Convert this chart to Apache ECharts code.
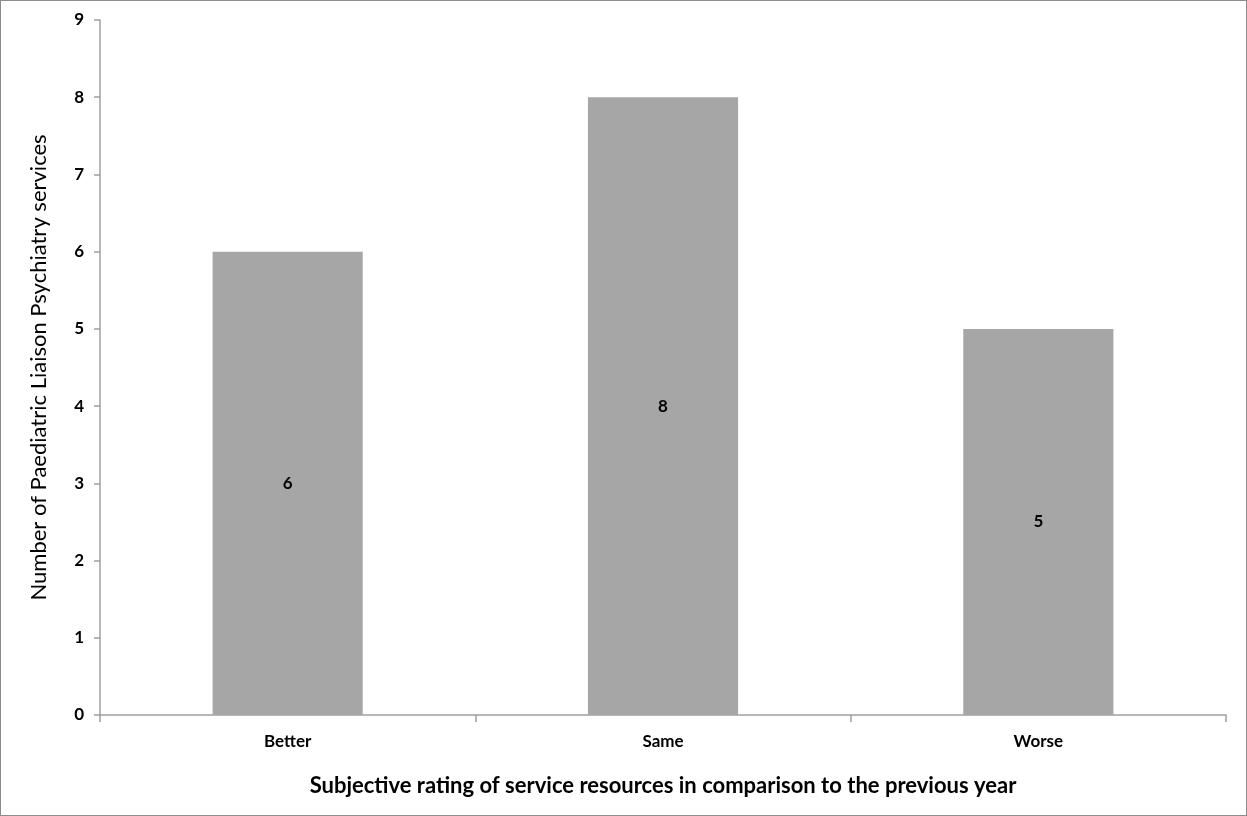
<!DOCTYPE html>
<html><head><meta charset="utf-8">
<script src="https://cdn.jsdelivr.net/npm/echarts@6/dist/echarts.min.js"></script>
<style>
html,body{margin:0;padding:0;background:#fff;}
#wrap{position:absolute;left:0;top:0;width:1245px;height:814px;border:1px solid #8c8c8c;border-bottom-width:2px;}
#c{width:1245px;height:814px;}
</style></head>
<body><div id="wrap"><div id="c"></div></div>
<script>
const categories = ['Better', 'Same', 'Worse'];
const values = [6, 8, 5];
const yTicks = [0, 9, 1];
const xTitle = 'Subjective rating of service resources in comparison to the previous year';
const yTitle = 'Number of Paediatric Liaison Psychiatry services';

const font = "Lato, 'Open Sans', sans-serif";
const axisColor = '#a0a0a0';
const chart = echarts.init(document.getElementById('c'));
chart.setOption({
  animation: false,
  grid: {left: 99, right: 20, top: 19, bottom: 100},
  xAxis: {
    type: 'category', data: categories,
    axisLine: {lineStyle: {color: axisColor, width: 1.5}},
    axisTick: {show: true, alignWithLabel: false, length: 7, lineStyle: {color: axisColor, width: 1.5}},
    axisLabel: {color: '#000', fontWeight: 'bold', fontSize: 17, fontFamily: font, margin: 18},
    name: xTitle, nameLocation: 'middle', nameGap: 60,
    nameTextStyle: {color: '#000', fontWeight: 'bold', fontSize: 22, fontFamily: font}
  },
  yAxis: {
    type: 'value', min: yTicks[0], max: yTicks[1], interval: yTicks[2],
    splitLine: {show: false},
    axisLine: {show: true, lineStyle: {color: axisColor, width: 1.5}},
    axisTick: {show: true, length: 6, lineStyle: {color: axisColor, width: 1.5}},
    axisLabel: {color: '#000', fontWeight: 'bold', fontSize: 17, fontFamily: font, margin: 16},
    name: yTitle, nameLocation: 'middle', nameGap: 50,
    nameTextStyle: {color: '#000', fontSize: 22, fontFamily: font}
  },
  series: [{
    type: 'bar', data: values, barCategoryGap: '60%',
    itemStyle: {color: '#a6a6a6'},
    label: {show: true, position: 'inside', color: '#000', fontWeight: 'bold', fontSize: 17, fontFamily: font}
  }]
});
</script></body></html>
